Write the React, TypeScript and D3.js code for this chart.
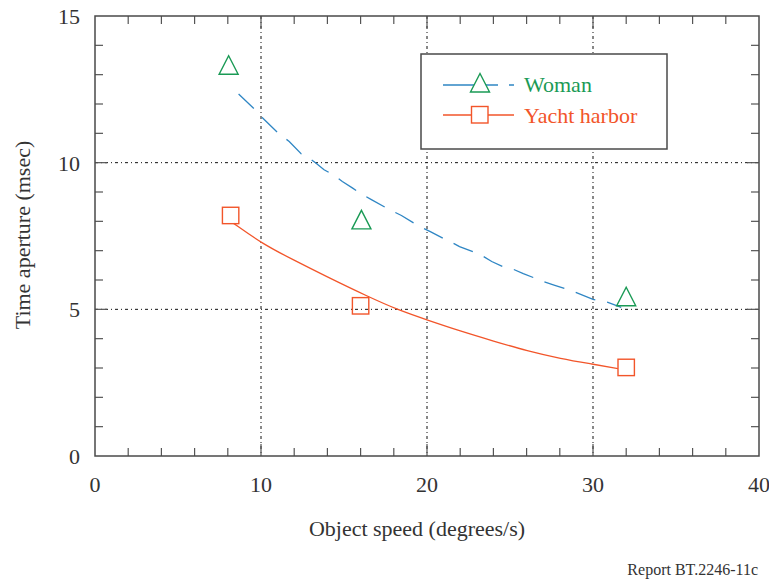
import React from "react";
import * as d3 from "d3";

const womanX = [8.05, 16.05, 32.0];
const womanY = [13.32, 8.05, 5.43];
const yachtX = [8.17, 16.0, 32.0];
const yachtY = [8.2, 5.12, 3.02];

const womanFitX = [8.65, 9.6, 10.1, 11.0, 11.7, 12.43, 12.63, 13.3, 13.8, 14.4, 14.9, 15.5, 16.0, 16.65, 17.74, 18.46, 19.55, 20.2, 21.0, 21.4, 21.96, 23.2, 23.9, 24.56, 25.1, 25.8, 27.0, 27.7, 28.96, 30.0, 30.3, 30.9, 31.7];
const womanFitY = [12.34, 11.83, 11.52, 11.03, 10.72, 10.3, 10.27, 9.99, 9.76, 9.57, 9.36, 9.14, 8.95, 8.74, 8.4, 8.2, 7.82, 7.65, 7.41, 7.31, 7.14, 6.87, 6.63, 6.46, 6.39, 6.22, 5.95, 5.82, 5.58, 5.34, 5.31, 5.24, 5.07];

const yachtFitX = [8.35, 10.1, 11.9, 13.9, 16.5, 18.3, 20.05, 22.0, 24.0, 26.05, 28.05, 30.0, 31.5];
const yachtFitY = [7.93, 7.23, 6.7, 6.13, 5.42, 4.97, 4.63, 4.26, 3.92, 3.58, 3.32, 3.13, 2.98];

const xTicks = [0, 10, 20, 30, 40];
const yTicks = [0, 5, 10, 15];
const xGrid = [10, 20, 30];
const yGrid = [5, 10];
const xMinor = d3.range(2, 40, 2);
const yMinor = d3.range(1, 15, 1);

const seriesNames = ["Woman", "Yacht harbor"];

const BLUE = "#2f86c4";
const GREEN = "#1a9a55";
const ORANGE = "#f2552a";
const FRAME = "#4a4a4a";
const FONT = "'Liberation Serif', 'Times New Roman', serif";

function tri(cx: number, cy: number, s: number) {
  return `M${cx},${cy - s} L${cx + s},${cy + s * 0.95} L${cx - s},${cy + s * 0.95} Z`;
}

export default function App() {
  const x = d3.scaleLinear().domain([0, 40]).range([95, 759]);
  const y = d3.scaleLinear().domain([0, 15]).range([456, 16]);
  const [x0, x1] = x.range();
  const [y0, y1] = y.range();

  const lineLin = d3
    .line<[number, number]>()
    .x((d) => x(d[0]))
    .y((d) => y(d[1]));
  const lineSmooth = d3
    .line<[number, number]>()
    .x((d) => x(d[0]))
    .y((d) => y(d[1]))
    .curve(d3.curveBasis);

  const wFit = womanFitX.map((v, i) => [v, womanFitY[i]] as [number, number]);
  const yFit = yachtFitX.map((v, i) => [v, yachtFitY[i]] as [number, number]);

  const gridDash = "3,3,1,3";
  const tickLen = 8;

  return (
    <svg
      width={769}
      height={579}
      style={{ position: "absolute", left: 0, top: 0, display: "block", background: "#fff" }}
      fontFamily={FONT}
    >
      {xGrid.map((v) => (
        <line key={"gx" + v} x1={x(v)} x2={x(v)} y1={y1} y2={y0} stroke="#111" strokeWidth={1} strokeDasharray={gridDash} />
      ))}
      {yGrid.map((v) => (
        <line key={"gy" + v} x1={x0} x2={x1} y1={y(v)} y2={y(v)} stroke="#111" strokeWidth={1} strokeDasharray={gridDash} />
      ))}

      {xMinor.map((v) => (
        <g key={"xm" + v} stroke="#555" strokeWidth={1.2}>
          <line x1={x(v)} x2={x(v)} y1={y0} y2={y0 - (v % 10 === 0 ? 12 : tickLen)} />
          <line x1={x(v)} x2={x(v)} y1={y1} y2={y1 + (v % 10 === 0 ? 12 : tickLen)} />
        </g>
      ))}
      {yMinor.map((v) => (
        <g key={"ym" + v} stroke="#555" strokeWidth={1.2}>
          <line x1={x0} x2={x0 + (v % 5 === 0 ? 12 : tickLen)} y1={y(v)} y2={y(v)} />
          <line x1={x1} x2={x1 - (v % 5 === 0 ? 12 : tickLen)} y1={y(v)} y2={y(v)} />
        </g>
      ))}

      <rect x={x0} y={y1} width={x1 - x0} height={y0 - y1} fill="none" stroke={FRAME} strokeWidth={1.5} />

      <path d={lineLin(wFit) || ""} fill="none" stroke={BLUE} strokeWidth={1.3} strokeDasharray="21,12" />
      <path d={lineSmooth(yFit) || ""} fill="none" stroke={ORANGE} strokeWidth={1.3} />

      {womanX.map((v, i) => (
        <path key={"wt" + i} d={tri(x(v), y(womanY[i]), 9.5)} fill="none" stroke={GREEN} strokeWidth={1.4} />
      ))}
      {yachtX.map((v, i) => (
        <rect key={"ys" + i} x={x(v) - 8.2} y={y(yachtY[i]) - 8.2} width={16.4} height={16.4} fill="none" stroke={ORANGE} strokeWidth={1.4} />
      ))}

      <rect x={421} y={54} width={246} height={95} fill="#fff" stroke={FRAME} strokeWidth={1.5} />
      <line x1={443} x2={514} y1={85} y2={85} stroke={BLUE} strokeWidth={1.3} strokeDasharray="55,11,5,100" />
      <path d={tri(480, 83, 9.5)} fill="#fff" stroke={GREEN} strokeWidth={1.4} />
      <text x={524} y={92} fontSize={22} fill={GREEN}>{seriesNames[0]}</text>
      <line x1={443} x2={514} y1={115} y2={115} stroke={ORANGE} strokeWidth={1.3} />
      <rect x={471.5} y={106.5} width={16.5} height={16.5} fill="#fff" stroke={ORANGE} strokeWidth={1.4} />
      <text x={524} y={122.5} fontSize={22} fill={ORANGE}>{seriesNames[1]}</text>

      {xTicks.map((v) => (
        <text key={"xl" + v} x={x(v)} y={492} fontSize={22} textAnchor="middle" fill="#333">{v}</text>
      ))}
      {yTicks.map((v) => (
        <text key={"yl" + v} x={80} y={y(v) + 8} fontSize={22} textAnchor="end" fill="#333">{v}</text>
      ))}

      <text x={417} y={536} fontSize={22} textAnchor="middle" fill="#333">Object speed (degrees/s)</text>
      <text transform={`translate(30,235) rotate(-90)`} fontSize={22} textAnchor="middle" fill="#333">Time aperture (msec)</text>
      <text x={758} y={575} fontSize={16} textAnchor="end" fill="#333">Report BT.2246-11c</text>
    </svg>
  );
}
